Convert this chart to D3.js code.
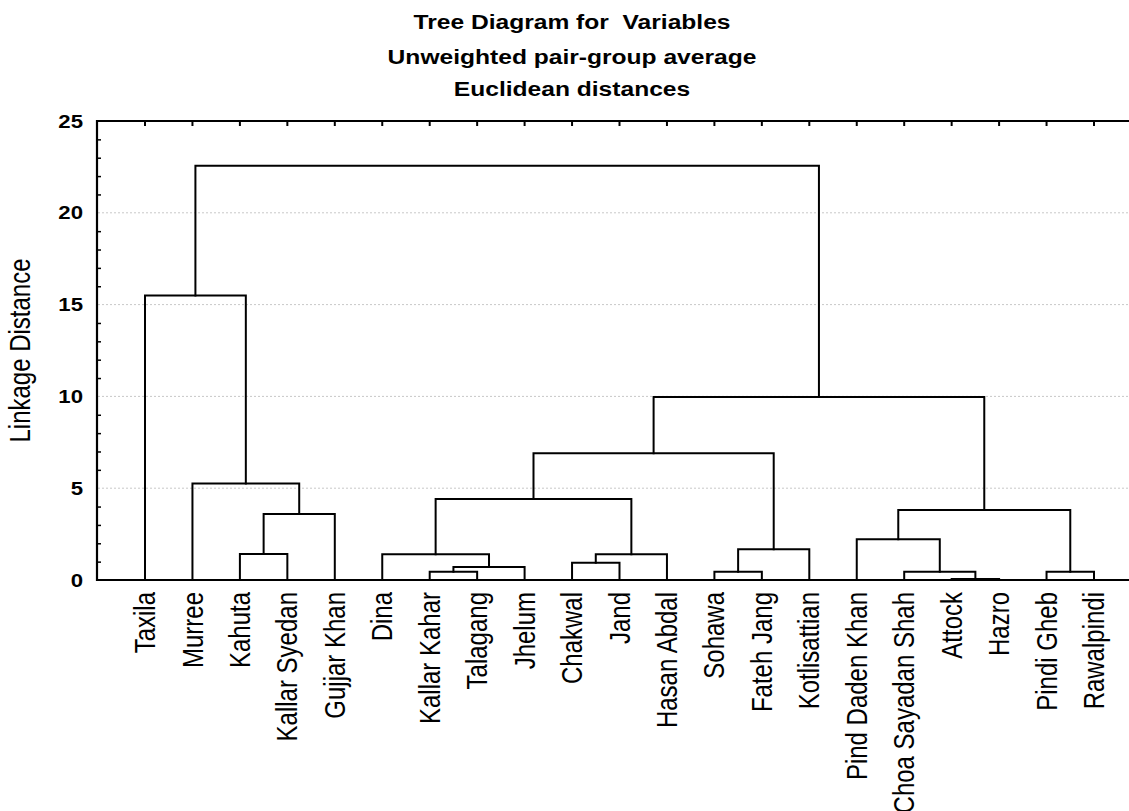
<!DOCTYPE html>
<html>
<head>
<meta charset="utf-8">
<script src="https://cdn.jsdelivr.net/npm/d3@7"></script>
<style>
  html, body { margin: 0; padding: 0; background: #fff; }
  svg { display: block; }
  text { font-family: "Liberation Sans", Arial, sans-serif; fill: #000; white-space: pre; }
</style>
</head>
<body>
<svg id="chart" width="1129" height="811"></svg>
<script>
// ---- data ----
const titleLines = ["Tree Diagram for  Variables", "Unweighted pair-group average", "Euclidean distances"];
const yAxisTitle = "Linkage Distance";
const leafLabels = ["Taxila", "Murree", "Kahuta", "Kallar Syedan", "Gujjar Khan", "Dina", "Kallar Kahar",
  "Talagang", "Jhelum", "Chakwal", "Jand", "Hasan Abdal", "Sohawa", "Fateh Jang", "Kotlisattian",
  "Pind Daden Khan", "Choa Sayadan Shah", "Attock", "Hazro", "Pindi Gheb", "Rawalpindi"];
// linkage: ids 0..20 are leaves, 21+ are clusters created in order
const mergeA      = [17, 6, 12, 16, 19, 22, 9, 5, 27, 2, 23, 15, 30, 32, 28, 1, 35, 37, 0, 39];
const mergeB      = [18, 7, 13, 21, 20, 8, 10, 26, 11, 3, 14, 24, 4, 25, 29, 33, 31, 34, 36, 38];
const mergeHeight = [0.05, 0.45, 0.45, 0.45, 0.45, 0.71, 0.94, 1.40, 1.40, 1.42, 1.67, 2.22, 3.59, 3.81, 4.41, 5.25, 6.90, 9.97, 15.49, 22.56];
const yTicks = [0, 5, 10, 15, 20, 25];

(function () {
// ---- layout ----
const svg = d3.select("#chart");
const pLeft = 97, pRight = 1129, pTop = 121, pBottom = 580;
const SX = 1.2; // horizontal stretch of text seen in the reference

const x = d3.scaleLinear().domain([0, leafLabels.length - 1]).range([145, 1094]);
const y = d3.scaleLinear().domain([0, 25]).range([pBottom, pTop]);

// node positions
const nodeX = leafLabels.map((d, i) => x(i));
const nodeH = leafLabels.map(() => 0);
mergeA.forEach((a, k) => {
  const b = mergeB[k];
  nodeX.push((nodeX[a] + nodeX[b]) / 2);
  nodeH.push(mergeHeight[k]);
});

// gridlines
svg.append("g").selectAll("line").data(yTicks.filter(v => v > 0 && v < 25)).join("line")
  .attr("x1", pLeft + 1).attr("x2", pRight)
  .attr("y1", d => y(d)).attr("y2", d => y(d))
  .attr("stroke", "#c8c8c8").attr("stroke-width", 1).attr("stroke-dasharray", "2,2");

// left minor ticks
const minor = d3.range(1, 25).filter(v => v % 5 !== 0);
svg.append("g").attr("transform", `translate(${pLeft},0)`)
  .call(d3.axisLeft(y).tickValues(minor).tickSize(-4).tickFormat(""))
  .call(g => g.select(".domain").remove())
  .call(g => g.selectAll("line").attr("stroke", "#000").attr("stroke-width", 1.5));

// top ticks at leaves
svg.append("g").selectAll("line").data(leafLabels).join("line")
  .attr("x1", (d, i) => x(i)).attr("x2", (d, i) => x(i))
  .attr("y1", pTop).attr("y2", pTop + 5)
  .attr("stroke", "#000").attr("stroke-width", 2);

// dendrogram links
const g = svg.append("g").attr("fill", "none").attr("stroke", "#000").attr("stroke-width", 2)
  .attr("stroke-linejoin", "miter").attr("stroke-linecap", "square");
mergeA.forEach((a, k) => {
  const b = mergeB[k];
  const h = y(mergeHeight[k]);
  g.append("path").attr("d",
    `M${nodeX[a]},${y(nodeH[a])}V${h}H${nodeX[b]}V${y(nodeH[b])}`);
});

// axis frame
svg.append("path")
  .attr("d", `M${pRight},${pTop}H${pLeft}V${pBottom}H${pRight}`)
  .attr("fill", "none").attr("stroke", "#000").attr("stroke-width", 2.2);

// y tick labels
svg.append("g").selectAll("text").data(yTicks).join("text")
  .attr("transform", d => `translate(83,${y(d)}) scale(${SX},1)`)
  .attr("dy", "0.36em")
  .attr("text-anchor", "end")
  .attr("font-size", 18.5).attr("font-weight", "bold")
  .text(d => d);

// y axis title
svg.append("text")
  .attr("transform", `translate(30,${(pTop + pBottom) / 2}) scale(${SX},1) rotate(-90)`)
  .attr("text-anchor", "middle")
  .attr("font-size", 24)
  .text(yAxisTitle);

// leaf labels
svg.append("g").selectAll("text").data(leafLabels).join("text")
  .attr("transform", (d, i) => `translate(${x(i)},592) scale(${SX},1) rotate(-90)`)
  .attr("dy", "0.35em")
  .attr("text-anchor", "end")
  .attr("font-size", 24)
  .text(d => d);

// title
const titleY = [29, 64, 96];
svg.append("g").selectAll("text").data(titleLines).join("text")
  .attr("transform", (d, i) => `translate(572,${titleY[i]}) scale(${SX},1)`)
  .attr("text-anchor", "middle")
  .attr("font-size", 20.5).attr("font-weight", "bold")
  .text(d => d);
})();
</script>
</body>
</html>
